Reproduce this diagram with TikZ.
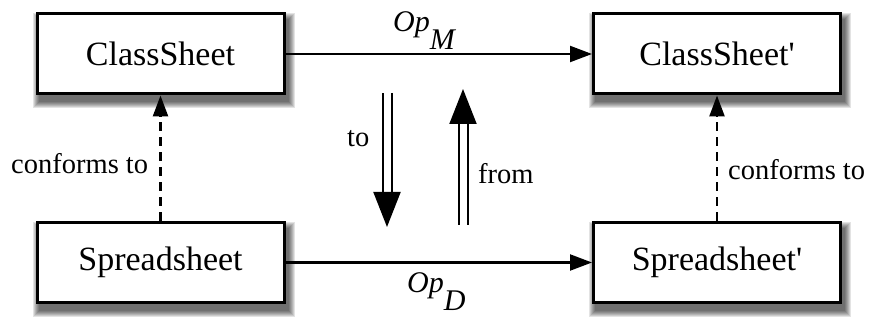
\documentclass[tikz,border=0pt]{standalone}
\usepackage{fontspec}
\setmainfont{Liberation Serif}
\usetikzlibrary{arrows.meta,backgrounds}
\begin{document}
\begin{tikzpicture}[x=1pt,y=1pt,
  box/.style={draw,line width=3pt,fill=white,minimum width=247pt,minimum height=80pt,inner sep=0pt,
    font=\fontsize{34}{40}\selectfont},
  lbl/.style={inner sep=0pt,anchor=base west,font=\fontsize{28.5}{32}\selectfont},
  oplbl/.style={inner sep=0pt,anchor=base west,font=\fontsize{30}{34}\selectfont\itshape},
  harrow/.style={line width=2.2pt,-{Triangle[length=22pt,width=16pt]}},
  darrow/.style={line width=2.5pt,dash pattern=on 9pt off 6pt,-{Triangle[length=21pt,width=15pt]}},
  dbl/.style={line width=2pt,double,double distance=7pt,-{Triangle[length=35pt,width=27pt]}},
  shadowlayer/.style={fill=black,opacity=0.11}]
\useasboundingbox (0,0) rectangle (872,323);
\node[box] (cs) at (160.5,269) {ClassSheet};
\node[box] (csp) at (717,269) {ClassSheet\textquotesingle};
\node[box] (ss) at (160.5,60.5) {Spreadsheet};
\node[box] (ssp) at (717,60.5) {Spreadsheet\textquotesingle};
\begin{scope}[on background layer]
\foreach \n in {cs,csp,ss,ssp}{
  \foreach \i in {0,...,6}{
    \fill[shadowlayer] ([shift={(3-6+\i,-7-6+\i)}]\n.south west) rectangle ([shift={(3+6-\i,-7+6-\i)}]\n.north east);
  }
}
\end{scope}
\draw[harrow] (cs.east) -- (csp.west);
\draw[harrow] (ss.east) -- (ssp.west);
\draw[darrow] (ss.north) -- (cs.south);
\draw[darrow] (ssp.north) -- (csp.south);
\coordinate (toA) at (387,230);
\coordinate (toB) at (387,96);
\coordinate (fromA) at (463,98);
\coordinate (fromB) at (463,234);
\draw[dbl] (toA) -- (toB);
\draw[dbl] (fromA) -- (fromB);
\node[oplbl] (opm) at (393,291) {Op\raisebox{-18pt}{M}};
\node[oplbl] (opd) at (407,30) {Op\raisebox{-18pt}{D}};
\node[lbl] (tol) at (347,176) {to};
\node[lbl] (froml) at (478,139) {from};
\node[lbl] (cfl) at (11,149) {conforms to};
\node[lbl] (cfr) at (728,143) {conforms to};
\end{tikzpicture}
\end{document}
